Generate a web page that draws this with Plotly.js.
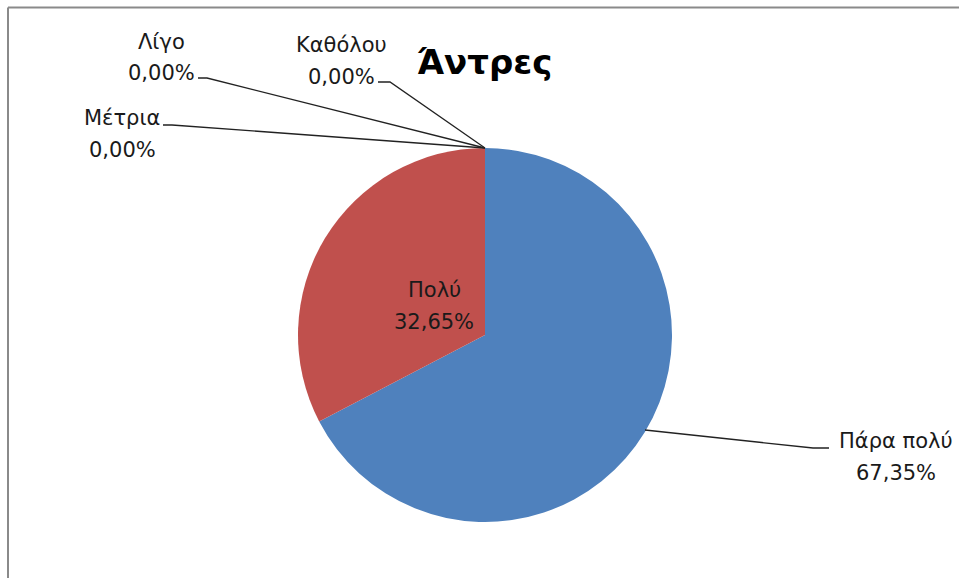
<!DOCTYPE html>
<html>
<head>
<meta charset="utf-8">
<script src="https://cdn.plot.ly/plotly-3.0.1.min.js"></script>
<style>html,body{margin:0;padding:0;background:#fff;}#chart{width:959px;height:578px;}</style>
</head>
<body>
<div id="chart"></div>
<script>
// Data
var categories = ["Πάρα πολύ", "Πολύ", "Μέτρια", "Λίγο", "Καθόλου"];
var values = [67.35, 32.65, 0, 0, 0];
var percentLabels = ["67,35%", "32,65%", "0,00%", "0,00%", "0,00%"];
var sliceColors = ["#4F81BD", "#C0504D", "#9BBB59", "#8064A2", "#4BACC6"];
var chartTitle = "Άντρες";

var W = 959, H = 578;
function px(x){ return x / W; }
function py(y){ return 1 - y / H; }

// label placement (pixel centres of the two text lines) and leader paths
var labelPos = [
  {x: 896, y1: 441, y2: 473, path: [[645,430],[813,448],[829,448]]},
  {x: 434, y1: 290, y2: 322, path: null},
  {x: 122, y1: 118, y2: 150, path: [[163,125],[172,125],[485,148]]},
  {x: 161, y1: 42,  y2: 73,  path: [[198,78],[207,78],[485,148]]},
  {x: 341, y1: 45,  y2: 77,  path: [[378,82],[390,82],[485,148]]}
];

var font = {family: "DejaVu Sans", size: 21, color: "#1a1a1a"};
var annotations = [];
var shapes = [];
for (var i = 0; i < categories.length; i++) {
  var p = labelPos[i];
  annotations.push({xref:"paper", yref:"paper", x: px(p.x), y: py(p.y1), text: categories[i],
    showarrow:false, font: font, xanchor:"center", yanchor:"middle"});
  annotations.push({xref:"paper", yref:"paper", x: px(p.x), y: py(p.y2), text: percentLabels[i],
    showarrow:false, font: font, xanchor:"center", yanchor:"middle"});
  if (p.path) {
    var d = "";
    for (var k = 0; k < p.path.length; k++) {
      d += (k === 0 ? "M" : " L") + px(p.path[k][0]) + "," + py(p.path[k][1]);
    }
    shapes.push({type:"path", xref:"paper", yref:"paper", path: d, line:{color:"#222", width:1.3}});
  }
}
annotations.push({xref:"paper", yref:"paper", x: px(484), y: py(62), text: "<b>" + chartTitle + "</b>",
  showarrow:false, font:{family:"DejaVu Sans", size:34, color:"#000"}, xanchor:"center", yanchor:"middle"});

// chart border (top and left visible)
shapes.push({type:"line", xref:"paper", yref:"paper", x0: px(8), x1: 1, y0: py(7.5), y1: py(7.5), line:{color:"#8a8a8a", width:2}});
shapes.push({type:"line", xref:"paper", yref:"paper", x0: px(8), x1: px(8), y0: py(7.5), y1: 0, line:{color:"#8a8a8a", width:2}});

var cx = 485, cy = 335, r = 187;
var trace = {
  type: "pie",
  labels: categories,
  values: values,
  sort: false,
  direction: "clockwise",
  rotation: 0,
  textinfo: "none",
  hoverinfo: "label+percent",
  marker: {colors: sliceColors, line: {width: 0}},
  domain: {x: [px(cx - r), px(cx + r)], y: [py(cy + r), py(cy - r)]},
  showlegend: false
};

var layout = {
  width: W, height: H,
  margin: {l:0, r:0, t:0, b:0},
  paper_bgcolor: "#fff",
  showlegend: false,
  annotations: annotations,
  shapes: shapes
};
Plotly.newPlot("chart", [trace], layout, {displayModeBar:false, staticPlot:true});
</script>
</body>
</html>
